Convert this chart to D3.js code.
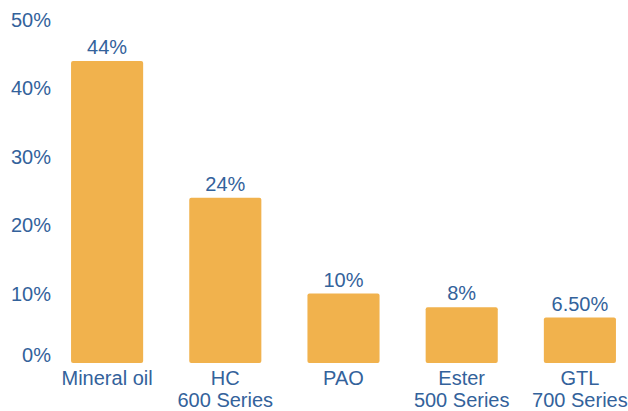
<!DOCTYPE html>
<html>
<head>
<meta charset="utf-8">
<script src="https://cdn.jsdelivr.net/npm/d3@7"></script>
<style>
  html, body { margin: 0; padding: 0; background: #fff; }
  text { font-family: "Liberation Sans", Arial, Helvetica, sans-serif; fill: #33629b; }
</style>
</head>
<body>
<div class="chart"></div>
<script>
// data
const categories = ['Mineral oil', 'HC\n600 Series', 'PAO', 'Ester\n500 Series', 'GTL\n700 Series'];
const values = [44, 24, 10, 8, 6.5];
const valueLabels = ['44%', '24%', '10%', '8%', '6.50%'];
const ticks = [0, 10, 20, 30, 40, 50];

const width = 628, height = 411;
const barColor = '#f1b24d';

let svg = d3.select('.chart').append('svg')
  .attr('width', width)
  .attr('height', height);

let x = d3.scaleBand()
  .domain(categories)
  .range([48, 639])
  .paddingInner(0.39)
  .paddingOuter(0.195);

let y = d3.scaleLinear()
  .domain([0, 50])
  .range([362, 20]);

// y axis labels, no lines
let yAxis = svg.append('g').attr('class', 'y-axis');
yAxis.selectAll('text')
  .data(ticks)
  .enter().append('text')
  .attr('x', 51)
  .attr('y', function(d) { return y(d); })
  .attr('dy', function(d) { return d === 0 ? '0.0em' : '0.35em'; })
  .attr('text-anchor', 'end')
  .style('font-size', '20px')
  .text(function(d) { return d + '%'; });

// bars
svg.append('g').selectAll('rect')
  .data(values)
  .enter().append('rect')
  .attr('x', function(d, i) { return x(categories[i]); })
  .attr('y', function(d) { return y(d); })
  .attr('width', x.bandwidth())
  .attr('height', function(d) { return y(0) - y(d) + 1; })
  .attr('rx', 2)
  .style('fill', barColor);

// value labels
svg.append('g').selectAll('text')
  .data(values)
  .enter().append('text')
  .attr('x', function(d, i) { return x(categories[i]) + x.bandwidth() / 2; })
  .attr('y', function(d) { return y(d) - 7; })
  .attr('text-anchor', 'middle')
  .style('font-size', '20px')
  .text(function(d, i) { return valueLabels[i]; });

// category labels
let cat = svg.append('g').selectAll('text')
  .data(categories)
  .enter().append('text')
  .attr('x', function(d) { return x(d) + x.bandwidth() / 2; })
  .attr('y', 385)
  .attr('text-anchor', 'middle')
  .style('font-size', '20px');

cat.each(function(d) {
  let lines = d.split('\n');
  let t = d3.select(this);
  lines.forEach(function(line, i) {
    t.append('tspan')
      .attr('x', t.attr('x'))
      .attr('dy', i === 0 ? 0 : 22)
      .text(line);
  });
});
</script>
</body>
</html>
